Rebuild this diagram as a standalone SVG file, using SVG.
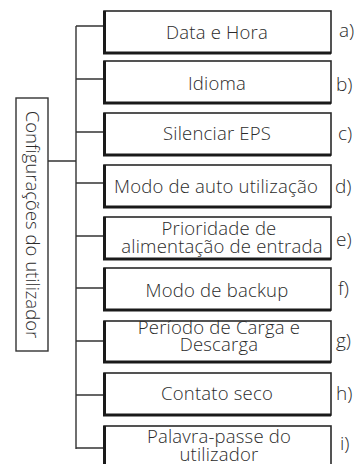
<svg xmlns="http://www.w3.org/2000/svg" width="363" height="464" viewBox="0 0 363 464">
<style>
.bx{fill:#fff;stroke:#2a2a2a;stroke-width:1.6}
.sh{fill:none;stroke:#1a1a1a;stroke-width:3}
.t{font-family:"Open Sans","Liberation Sans",sans-serif;font-weight:300;font-size:18.5px;letter-spacing:0.2px;fill:#2b2b2b;text-anchor:middle}
.l{font-family:"Open Sans","Liberation Sans",sans-serif;font-weight:300;font-size:19px;fill:#2b2b2b}
.r{font-family:"Open Sans","Liberation Sans",sans-serif;font-weight:300;font-size:18.5px;fill:#2b2b2b;text-anchor:middle}
.c{fill:none;stroke:#333;stroke-width:1.4}
</style>
<rect width="363" height="464" fill="#fff"/>
<g id="connectors">
<path class="c" d="M48,161H76M76,26V449M76,26H104M76,79H104M76,132H104M76,183H104M76,236H104M76,288H104M76,341H104M76,395H104M76,448H104"/>
</g>
<g id="root">
<rect x="16" y="98" width="32" height="253" fill="#fff" stroke="#333" stroke-width="1.4"/>
<text class="r" transform="translate(25.5,224.5) rotate(90)">Configurações do utilizador</text>
</g>
<g id="a">
<rect class="bx" x="104" y="11" width="227" height="42"/><path class="sh" d="M104.5,11V53H331"/>
<text class="t" x="217" y="38.5">Data e Hora</text><text class="l" x="339" y="37">a)</text>
</g>
<g id="b">
<rect class="bx" x="104" y="61" width="227" height="42"/><path class="sh" d="M104.5,61V103H331"/>
<text class="t" x="217" y="90">Idioma</text><text class="l" x="336" y="91">b)</text>
</g>
<g id="c">
<rect class="bx" x="104" y="113" width="227" height="42"/><path class="sh" d="M104.5,113V155H331"/>
<text class="t" x="217" y="140">Silenciar EPS</text><text class="l" x="338" y="140">c)</text>
</g>
<g id="d">
<rect class="bx" x="104" y="165" width="227" height="42"/><path class="sh" d="M104.5,165V207H331"/>
<text class="t" x="216" y="193">Modo de auto utilização</text><text class="l" x="335" y="193">d)</text>
</g>
<g id="e">
<rect class="bx" x="104" y="217" width="227" height="42"/><path class="sh" d="M104.5,217V259H331"/>
<text class="t" x="219" y="235">Prioridade de</text><text class="t" x="222" y="253">alimentação de entrada</text><text class="l" x="336" y="246">e)</text>
</g>
<g id="f">
<rect class="bx" x="104" y="268" width="227" height="42"/><path class="sh" d="M104.5,268V310H331"/>
<text class="t" x="217" y="296.5">Modo de backup</text><text class="l" x="338" y="295">f)</text>
</g>
<g id="g">
<rect class="bx" x="104" y="321" width="227" height="41"/><path class="sh" d="M104.5,321V362H331"/>
<text class="t" x="219" y="334">Período de Carga e</text><text class="t" x="219" y="351">Descarga</text><text class="l" x="336" y="346.5">g)</text>
</g>
<g id="h">
<rect class="bx" x="104" y="373" width="227" height="42"/><path class="sh" d="M104.5,373V415H331"/>
<text class="t" x="217" y="400">Contato seco</text><text class="l" x="336" y="400">h)</text>
</g>
<g id="i">
<rect class="bx" x="104" y="426" width="227" height="42"/><path class="sh" d="M104.5,426V468H331"/>
<text class="t" x="219" y="443">Palavra-passe do</text><text class="t" x="219" y="461">utilizador</text><text class="l" x="340" y="450">i)</text>
</g>
</svg>
